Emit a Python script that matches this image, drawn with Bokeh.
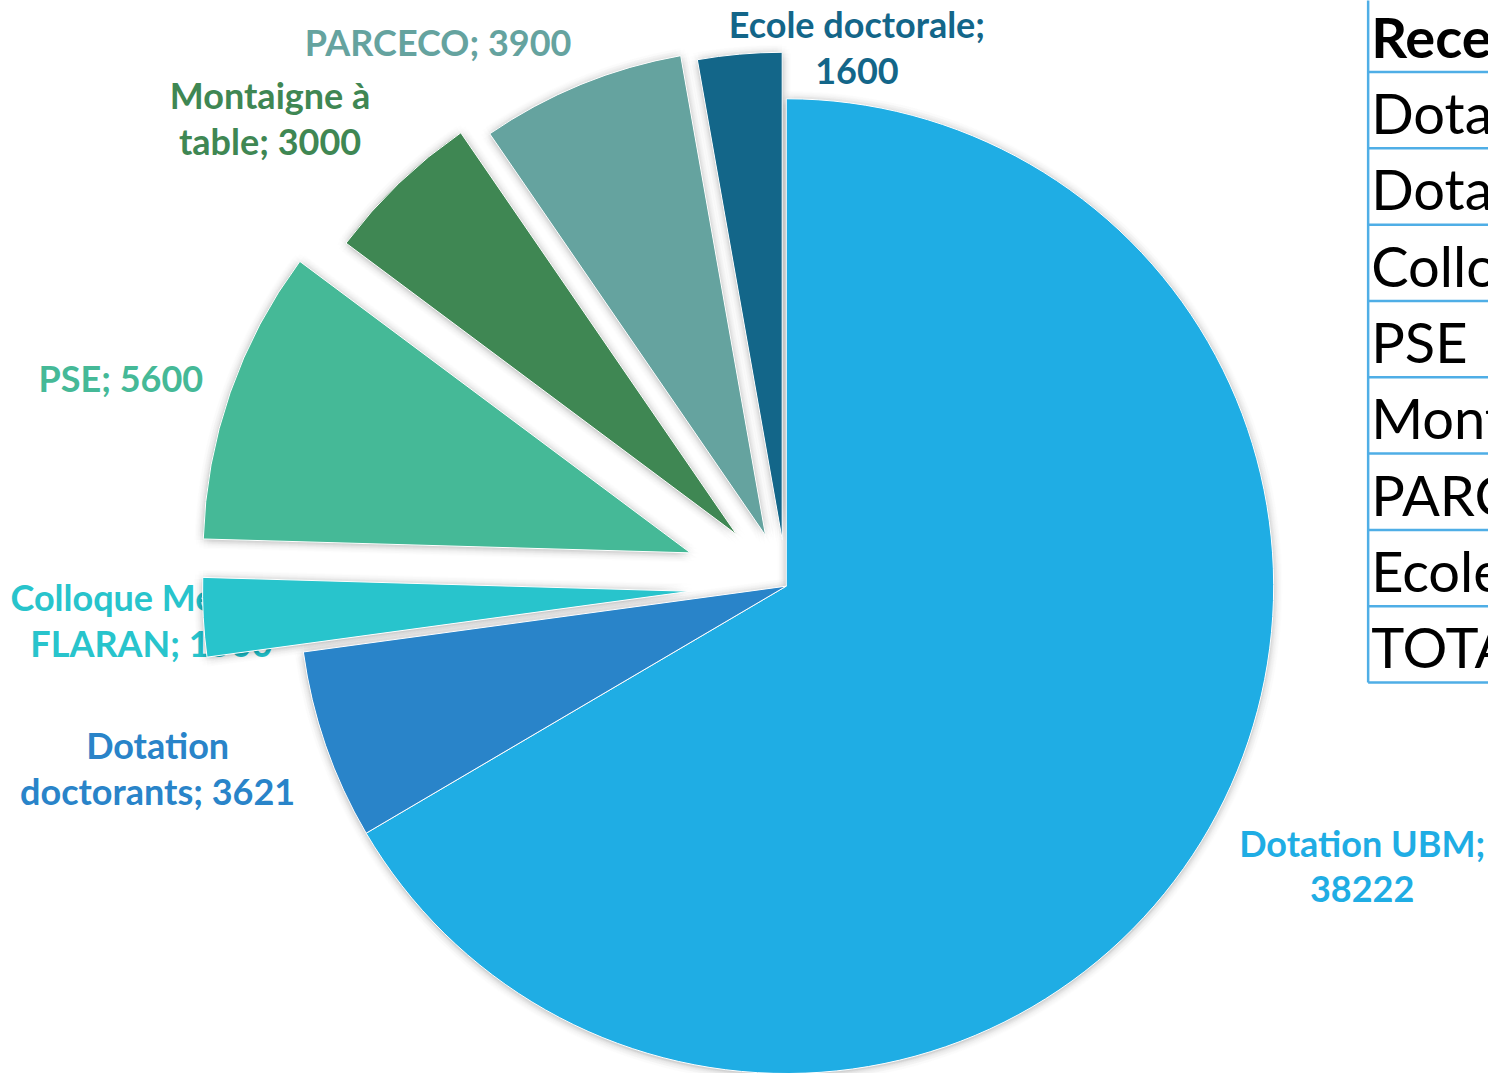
import numpy as np
from bokeh.plotting import figure
from bokeh.models import Range1d, ColumnDataSource
from bokeh.core.properties import value
from bokeh.embed import file_html
from bokeh.resources import INLINE

# ---------------- data ----------------
categories = ["Dotation UBM", "Dotation doctorants", "Colloque Medievales FLARAN",
              "PSE", "Montaigne à table", "PARCECO", "Ecole doctorale"]
values = [38222, 3621, 1500, 5600, 3000, 3900, 1600]
table_header = "Recettes"
table_total = "TOTAL"

# ---------------- style / layout ----------------
colors = ["#1FADE4", "#2984C9", "#28C4CC", "#45B997", "#3F8753", "#65A39F", "#136689"]
explode = np.array([0, 0, 97, 102, 72, 55, 47], dtype=float)   # px offsets
wrap_words = [2, 1, 2, 0, 2, 0, 2]      # words kept on first label line (0 = single line)
label_anchor = [(1369, 862), (158, 763), (10, 614), (121, 393), (271, 108), (440, 55), (861, 37)]
label_align = ["center", "center", "left", "center", "center", "center", "center"]
second_line_x = [None, None, 30, None, None, None, None]
LINE_GAP = 46.5
LABEL_PX = 36
TABLE_PX = 56
BASE_FIX = 0.36          # em correction for baseline placement
W, H = 1496, 1081
CX, CY_REF, R = 790, 590, 490

def Y(yref):
    return H - yref

p = figure(width=W - 8, height=H - 8, x_range=Range1d(0, W), y_range=Range1d(0, H),
           output_backend="svg", toolbar_location=None,
           x_axis_location=None, y_axis_location=None, min_border=0)
p.grid.visible = False
p.outline_line_color = None
p.background_fill_color = "white"
p.border_fill_color = "white"

# ---------------- geometry from data ----------------
vals = np.array(values, dtype=float)
frac = vals / vals.sum()
cum = np.concatenate([[0.0], np.cumsum(frac)])
th0 = cum[:-1] * 2 * np.pi          # clockwise from 12 o'clock
th1 = cum[1:] * 2 * np.pi
mid = (th0 + th1) / 2
cx = CX + explode * np.sin(mid)
cy = Y(CY_REF) + explode * np.cos(mid)
start = np.pi / 2 - th1
end = np.pi / 2 - th0

# ---------------- labels (drawn first; wedges may cover them) ----------------
lx, ly, lt, lc, la = [], [], [], [], []
for i, (name, v) in enumerate(zip(categories, values)):
    words = (f"{name}; {v}").split(" ")
    if wrap_words[i]:
        lines = [" ".join(words[:wrap_words[i]]), " ".join(words[wrap_words[i]:])]
    else:
        lines = [" ".join(words)]
    ax, ay = label_anchor[i]
    for k, line in enumerate(lines):
        x = ax if (k == 0 or second_line_x[i] is None) else second_line_x[i]
        lx.append(x)
        ly.append(Y(ay + k * LINE_GAP - BASE_FIX * LABEL_PX))
        lt.append(line)
        lc.append(colors[i])
        la.append(label_align[i])

lab_src = ColumnDataSource(dict(x=lx, y=ly, text=lt, color=lc, align=la))
p.text("x", "y", text="text", source=lab_src, text_color="color", text_align="align",
       text_baseline="alphabetic", text_font=value("Lato"), text_font_style="bold",
       text_font_size=f"{LABEL_PX}px")

# ---------------- soft shadow ----------------
sx, sy, ss, se = [], [], [], []
for i in range(len(values)):
    for rad in (2.0, 4.0, 6.5, 9.0):
        for a in np.linspace(0, 2 * np.pi, 12, endpoint=False):
            sx.append(cx[i] + rad * np.cos(a))
            sy.append(cy[i] + rad * np.sin(a) - 1.0)
            ss.append(start[i])
            se.append(end[i])
p.wedge(x=sx, y=sy, radius=R, start_angle=ss, end_angle=se,
        fill_color="black", fill_alpha=0.008, line_color=None)

# ---------------- pie ----------------
src = ColumnDataSource(dict(x=cx, y=cy, start=start, end=end, color=colors, name=categories))
p.wedge(x="x", y="y", radius=R, start_angle="start", end_angle="end", source=src,
        fill_color="color", line_color="white", line_width=1)

# ---------------- table (cut off at right edge) ----------------
rows = [table_header] + categories + [table_total]
ROW_TOP, ROW_H = 72, 76.9
ty = [Y(ROW_TOP + k * ROW_H - 16 - BASE_FIX * TABLE_PX) for k in range(len(rows))]
p.text(x=[1378], y=[ty[0]], text=[rows[0]], text_color="black", text_baseline="alphabetic",
       text_font=value("Lato"), text_font_style="bold", text_font_size=f"{TABLE_PX}px")
p.text(x=[1378] * (len(rows) - 1), y=ty[1:], text=rows[1:], text_color="black",
       text_baseline="alphabetic", text_font=value("Lato"), text_font_size=f"{TABLE_PX}px")
hy = [Y(ROW_TOP + k * ROW_H) for k in range(len(rows))]
p.segment(x0=[1375] * len(hy), y0=hy, x1=[W + 10] * len(hy), y1=hy,
          line_color="#4FAEE6", line_width=2.5)
p.segment(x0=[1375], y0=[Y(-5)], x1=[1375], y1=[hy[-1]], line_color="#4FAEE6", line_width=2.5)

open("out.html", "w").write(file_html(p, INLINE))
